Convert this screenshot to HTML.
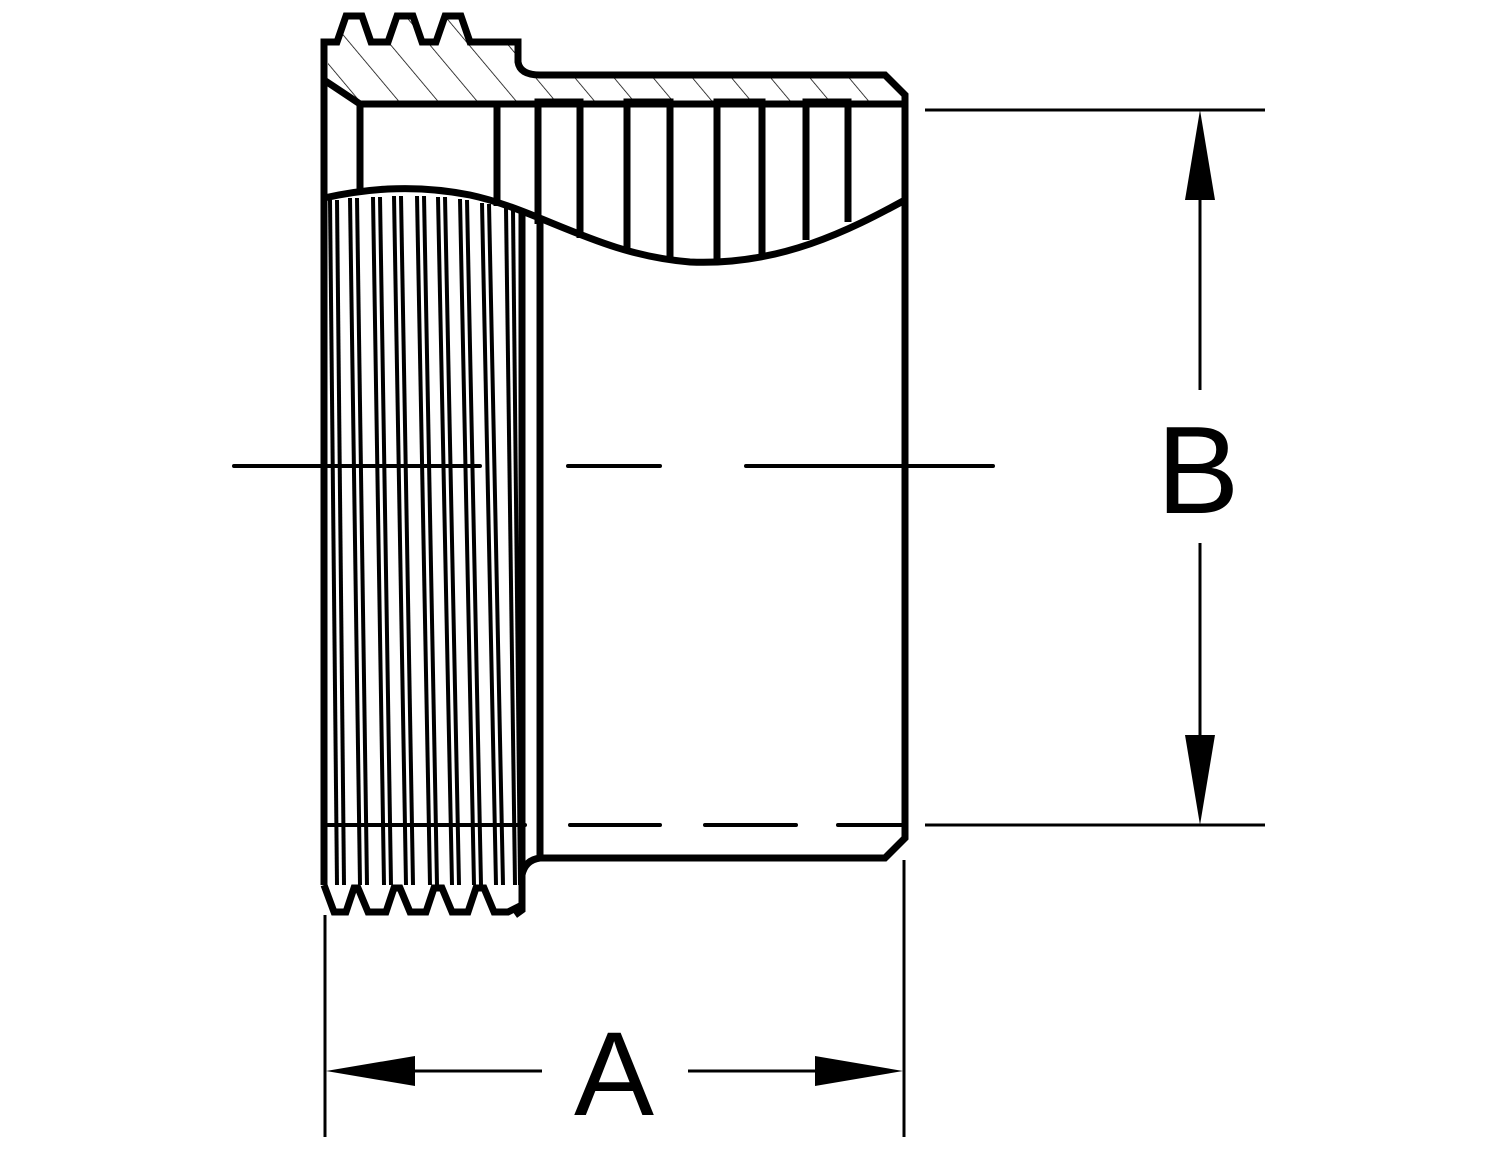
<!DOCTYPE html>
<html><head><meta charset="utf-8"><style>
html,body{margin:0;padding:0;background:#fff;}
svg{display:block;}
text{font-family:"Liberation Sans",sans-serif;}
</style></head><body>
<svg width="1500" height="1159" viewBox="0 0 1500 1159" xmlns="http://www.w3.org/2000/svg">
<defs>
<pattern id="h" patternUnits="userSpaceOnUse" width="30" height="30" patternTransform="rotate(-40)">
<line x1="0" y1="0" x2="0" y2="30" stroke="#000" stroke-width="1.5"/>
</pattern>
</defs>
<path d="M328,42 L337,42 L346,16 L362,16 L371,42 L388,42 L397,16 L413,16 L422,42 L436,42 L445,16 L461,16 L470,42 L518,42 L518,62 Q520,75 540,75 L885,75 L905,95 L905,104 L360,104 L328,80 Z" fill="url(#h)"/>
<g fill="none" stroke="#000" stroke-width="7" stroke-linejoin="miter">
<path d="M324,885 L324,42 L337,42 L346,16 L362,16 L371,42 L388,42 L397,16 L413,16 L422,42 L436,42 L445,16 L461,16 L470,42 L485,42 L518,42 L518,62 Q520,75 540,75 L885,75 L905,95 L905,838 L885,858 L540,858 Q525,860 522,875 L522,910 L515,915"/>
<path d="M324,80 L360,104 L905,104"/>
<path d="M360,104 L360,192"/>
<path d="M497,104 L497,206"/>
<path d="M538,224 L538,102 L580,102 L580,238"/>
<path d="M627,253 L627,102 L670,102 L670,260"/>
<path d="M717,262 L717,102 L762,102 L762,255"/>
<path d="M806,240 L806,102 L848,102 L848,222"/>
<path d="M324,198 C360,190 410,183 470,195 C540,210 600,255 690,262 C780,266 850,230 905,200"/>
<path d="M540,222 L540,858"/>
<path d="M522,210 L522,880"/>
<path d="M324,885 L334,912 L346,912 L354,888 L358,888 L368,912 L386,912 L394,888 L400,888 L410,912 L426,912 L434,888 L442,888 L452,912 L468,912 L476,888 L484,888 L494,912 L508,912 L522,905"/>
</g>
<g stroke="#000" stroke-width="4" fill="none">
<line x1="330" y1="200" x2="337" y2="885"/><line x1="337" y1="200" x2="344" y2="885"/>
<line x1="350" y1="198" x2="360" y2="885"/><line x1="357" y1="198" x2="367" y2="885"/>
<line x1="373" y1="197" x2="384" y2="885"/><line x1="380" y1="197" x2="391" y2="885"/>
<line x1="394" y1="196" x2="406" y2="885"/><line x1="401" y1="196" x2="413" y2="885"/>
<line x1="417" y1="196" x2="430" y2="885"/><line x1="424" y1="196" x2="437" y2="885"/>
<line x1="438" y1="197" x2="452" y2="885"/><line x1="445" y1="197" x2="459" y2="885"/>
<line x1="460" y1="199" x2="474" y2="885"/><line x1="467" y1="200" x2="481" y2="885"/>
<line x1="482" y1="203" x2="496" y2="885"/><line x1="489" y1="204" x2="503" y2="885"/>
<line x1="506" y1="208" x2="515" y2="885"/><line x1="513" y1="210" x2="520" y2="885"/>
</g>
<g stroke="#000" stroke-width="4" stroke-linecap="round">
<line x1="234" y1="466" x2="480" y2="466"/>
<line x1="568" y1="466" x2="660" y2="466"/>
<line x1="746" y1="466" x2="993" y2="466"/>
<line x1="328" y1="825" x2="525" y2="825"/>
<line x1="570" y1="825" x2="660" y2="825"/>
<line x1="705" y1="825" x2="796" y2="825"/>
<line x1="838" y1="825" x2="903" y2="825"/>
</g>
<g stroke="#000" stroke-width="3">
<line x1="925" y1="110" x2="1265" y2="110"/>
<line x1="925" y1="825" x2="1265" y2="825"/>
<line x1="1200" y1="190" x2="1200" y2="390"/>
<line x1="1200" y1="543" x2="1200" y2="740"/>
<line x1="325" y1="915" x2="325" y2="1137"/>
<line x1="904" y1="860" x2="904" y2="1137"/>
<line x1="400" y1="1071" x2="542" y2="1071"/>
<line x1="688" y1="1071" x2="830" y2="1071"/>
</g>
<g fill="#000">
<polygon points="1200,110 1185,200 1215,200"/>
<polygon points="1200,825 1185,735 1215,735"/>
<polygon points="326,1071 415,1056 415,1086"/>
<polygon points="903,1071 815,1056 815,1086"/>
</g>
<text x="1198" y="513" font-size="124" text-anchor="middle">B</text>
<text x="614" y="1115" font-size="120" text-anchor="middle">A</text>
</svg>
</body></html>
